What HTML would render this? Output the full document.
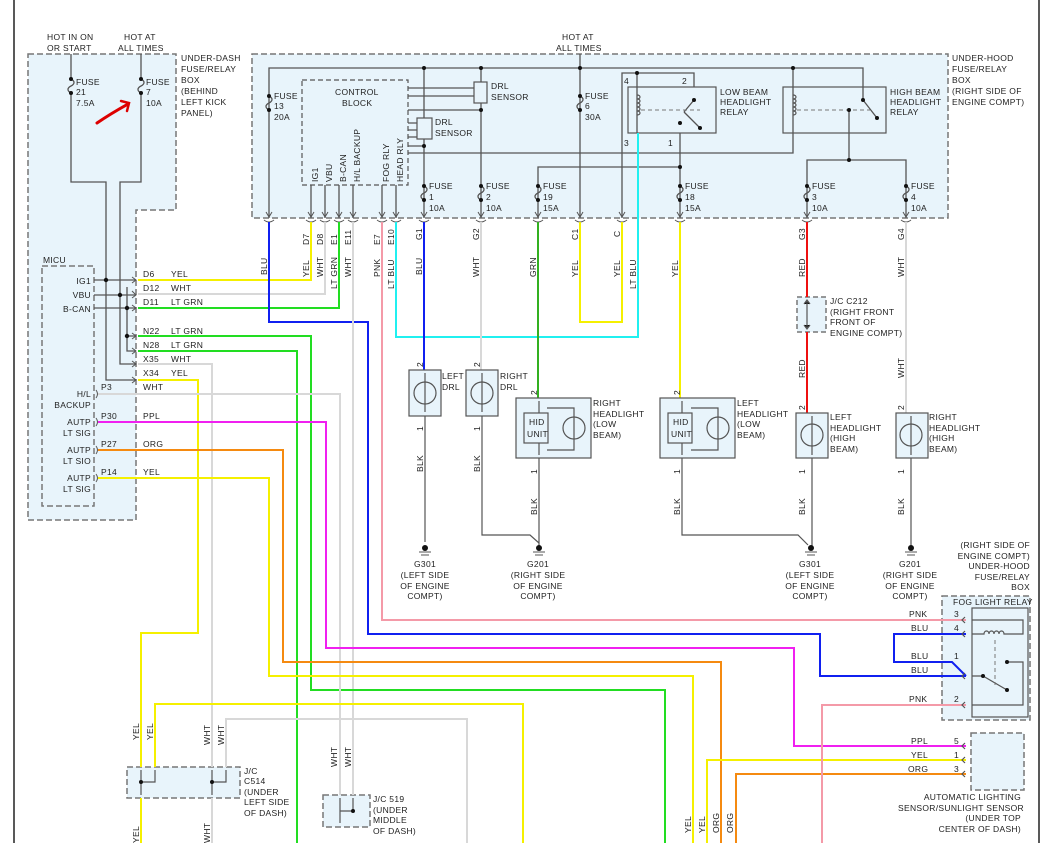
<!DOCTYPE html>
<html><head><meta charset="utf-8"><style>
html,body{margin:0;padding:0;background:#fff;}
svg{display:block;font-family:"Liberation Sans",sans-serif;}
text{font-size:8.5px;fill:#222;letter-spacing:0.3px;}
</style></head><body>
<svg width="1053" height="843" viewBox="0 0 1053 843" xmlns="http://www.w3.org/2000/svg">
<line x1="14" y1="0" x2="14" y2="843" stroke="#222" stroke-width="1.5"/>
<line x1="1039" y1="0" x2="1039" y2="843" stroke="#222" stroke-width="1.5"/>

<path d="M28 54 H176 V210 H136 V520 H28 Z" fill="#e8f4fb" stroke="#777" stroke-width="1.5" stroke-dasharray="6,3"/>
<rect x="42" y="266" width="52" height="240" fill="#e8f4fb" stroke="#777" stroke-width="1.5" stroke-dasharray="6,3"/>
<rect x="252" y="54" width="696" height="164" fill="#e8f4fb" stroke="#777" stroke-width="1.5" stroke-dasharray="6,3"/>
<rect x="302" y="80" width="106" height="105" fill="#e8f4fb" stroke="#555" stroke-width="1.2" stroke-dasharray="5,3"/>
<rect x="942" y="596" width="88" height="124" fill="#e8f4fb" stroke="#777" stroke-width="1.5" stroke-dasharray="6,3"/>
<rect x="971" y="733" width="53" height="57" fill="#e8f4fb" stroke="#777" stroke-width="1.5" stroke-dasharray="6,3"/>
<rect x="127" y="767" width="113" height="31" fill="#e8f4fb" stroke="#777" stroke-width="1.5" stroke-dasharray="6,3"/>
<rect x="323" y="795" width="47" height="32" fill="#e8f4fb" stroke="#777" stroke-width="1.5" stroke-dasharray="6,3"/>
<rect x="797" y="297" width="29" height="35" fill="#e8f4fb" stroke="#777" stroke-width="1.5" stroke-dasharray="5,3"/>

<text x="47" y="40">HOT IN ON</text><text x="47" y="51">OR START</text>
<text x="124" y="40">HOT AT</text><text x="118" y="51">ALL TIMES</text>
<text x="181" y="61">UNDER-DASH</text><text x="181" y="72">FUSE/RELAY</text><text x="181" y="83">BOX</text>
<text x="181" y="94">(BEHIND</text><text x="181" y="105">LEFT KICK</text><text x="181" y="116">PANEL)</text>
<text x="76" y="85">FUSE</text><text x="76" y="95">21</text><text x="76" y="106">7.5A</text>
<text x="146" y="85">FUSE</text><text x="146" y="95">7</text><text x="146" y="106">10A</text>
<path d="M97 123 Q110 114 128 104" stroke="#d00" stroke-width="3" fill="none" stroke-linecap="round"/>
<path d="M121 101 L129 103 L127 111" stroke="#d00" stroke-width="2.5" fill="none" stroke-linecap="round"/>

<g stroke="#555" stroke-width="1.3" fill="none">
<path d="M71 54 V182 H106 V380 H136"/>
<path d="M141 54 V182 H120 V364 H136"/>
<path d="M106 280 H136 M120 295 H136 M127 308 H136 M127 287 V351 H136 M127 336 H136"/>
<path d="M94 280 H106 M94 295 H120 M94 308 H127"/>
</g>
<g fill="#111">
<circle cx="106" cy="280" r="2.2"/><circle cx="120" cy="295" r="2.2"/><circle cx="127" cy="308" r="2.2"/><circle cx="127" cy="336" r="2.2"/>
</g>
<g fill="#e8f4fb">
<rect x="66" y="78" width="10" height="16"/><rect x="136" y="78" width="10" height="16"/>
</g>
<g stroke="#555" stroke-width="1.3" fill="none">
<path d="M71 79 c4 2 4 5 0 7 c-4 2 -4 5 0 7"/><path d="M141 79 c4 2 4 5 0 7 c-4 2 -4 5 0 7"/>
</g>
<g fill="#111"><circle cx="71" cy="79" r="2"/><circle cx="71" cy="93" r="2"/><circle cx="141" cy="79" r="2"/><circle cx="141" cy="93" r="2"/></g>

<text x="43" y="263">MICU</text>
<g text-anchor="end">
<text x="91" y="284">IG1</text><text x="91" y="298">VBU</text><text x="91" y="312">B-CAN</text>
<text x="91" y="397">H/L</text><text x="91" y="408">BACKUP</text>
<text x="91" y="425">AUTP</text><text x="91" y="436">LT SIG</text>
<text x="91" y="453">AUTP</text><text x="91" y="464">LT SIO</text>
<text x="91" y="481">AUTP</text><text x="91" y="492">LT SIG</text>
</g>
<text x="143" y="277">D6</text><text x="171" y="277">YEL</text>
<text x="143" y="291">D12</text><text x="171" y="291">WHT</text>
<text x="143" y="305">D11</text><text x="171" y="305">LT GRN</text>
<text x="143" y="334">N22</text><text x="171" y="334">LT GRN</text>
<text x="143" y="348">N28</text><text x="171" y="348">LT GRN</text>
<text x="143" y="362">X35</text><text x="171" y="362">WHT</text>
<text x="143" y="376">X34</text><text x="171" y="376">YEL</text>
<text x="143" y="390">WHT</text>
<text x="101" y="390">P3</text>
<text x="101" y="419">P30</text><text x="143" y="419">PPL</text>
<text x="101" y="447">P27</text><text x="143" y="447">ORG</text>
<text x="101" y="475">P14</text><text x="143" y="475">YEL</text>
<g stroke="#555" stroke-width="1" fill="none">
<path d="M132 277 L136 280 L132 283 M132 291 L136 295 L132 298 M132 305 L136 308 L132 311 M132 333 L136 336 L132 339 M132 348 L136 351 L132 354 M132 361 L136 364 L132 367 M132 377 L136 380 L132 383"/>
<path d="M96 390 q3 4 0 8 M96 418 q3 4 0 8 M96 446 q3 4 0 8 M96 474 q3 4 0 8"/>
</g>

<text x="562" y="40">HOT AT</text><text x="556" y="51">ALL TIMES</text>
<text x="952" y="61">UNDER-HOOD</text><text x="952" y="72">FUSE/RELAY</text><text x="952" y="83">BOX</text>
<text x="952" y="94">(RIGHT SIDE OF</text><text x="952" y="105">ENGINE COMPT)</text>
<text x="335" y="95">CONTROL</text><text x="342" y="106">BLOCK</text>

<g stroke="#555" stroke-width="1.3" fill="none">
<path d="M269 218 V68 H863 V100"/>
<path d="M424 68 V218 M481 68 V218 M580 54 V218"/>
<path d="M408 88 H474 M408 96 H474 M408 110 H481"/>
<path d="M408 123 H417 M408 130 H417 M408 137 H417 M408 146 H424"/>
<path d="M408 153 H793 V68"/>
<path d="M538 218 V167 H680 M680 218 V143 V133"/>
<path d="M622 218 V73 H694 V87 M637 73 V133"/>
<path d="M849 110 V160 M807 218 V160 H906 V218"/>
<path d="M863 100 L877 118"/>
<path d="M684 112 L700 128"/>
<path d="M694 100 L684 112"/>
</g>
<rect x="474" y="82" width="13" height="21" fill="#e8f4fb" stroke="#555" stroke-width="1.2"/>
<rect x="417" y="118" width="15" height="21" fill="#e8f4fb" stroke="#555" stroke-width="1.2"/>
<rect x="628" y="87" width="88" height="46" fill="none" stroke="#555" stroke-width="1.2"/>
<rect x="783" y="87" width="103" height="46" fill="none" stroke="#555" stroke-width="1.2"/>
<g stroke="#777" stroke-width="1" stroke-dasharray="4,3"><line x1="641" y1="110" x2="700" y2="110"/><line x1="797" y1="110" x2="870" y2="110"/></g>
<g stroke="#555" stroke-width="1.2" fill="none">
<path d="M637 95 c4 0 4 4 0 4 c4 0 4 4 0 4 c4 0 4 4 0 4 c4 0 4 4 0 4 c4 0 4 4 0 4"/>
<path d="M793 95 c4 0 4 4 0 4 c4 0 4 4 0 4 c4 0 4 4 0 4 c4 0 4 4 0 4 c4 0 4 4 0 4"/>
</g>
<g stroke="#555" stroke-width="1.3" fill="none">
<path d="M269 96 c4 2 4 5 0 7 c-4 2 -4 5 0 7"/>
<path d="M580 96 c4 2 4 5 0 7 c-4 2 -4 5 0 7"/>
<path d="M424 186 c4 2 4 5 0 7 c-4 2 -4 5 0 7"/>
<path d="M481 186 c4 2 4 5 0 7 c-4 2 -4 5 0 7"/>
<path d="M538 186 c4 2 4 5 0 7 c-4 2 -4 5 0 7"/>
<path d="M680 186 c4 2 4 5 0 7 c-4 2 -4 5 0 7"/>
<path d="M807 186 c4 2 4 5 0 7 c-4 2 -4 5 0 7"/>
<path d="M906 186 c4 2 4 5 0 7 c-4 2 -4 5 0 7"/>
</g>
<g fill="#111">
<circle cx="269" cy="96" r="2"/><circle cx="269" cy="110" r="2"/><circle cx="580" cy="96" r="2"/><circle cx="580" cy="110" r="2"/>
<circle cx="424" cy="186" r="2"/><circle cx="424" cy="200" r="2"/><circle cx="481" cy="186" r="2"/><circle cx="481" cy="200" r="2"/>
<circle cx="538" cy="186" r="2"/><circle cx="538" cy="200" r="2"/><circle cx="680" cy="186" r="2"/><circle cx="680" cy="200" r="2"/>
<circle cx="807" cy="186" r="2"/><circle cx="807" cy="200" r="2"/><circle cx="906" cy="186" r="2"/><circle cx="906" cy="200" r="2"/>
<circle cx="424" cy="68" r="2"/><circle cx="481" cy="68" r="2"/><circle cx="580" cy="68" r="2"/><circle cx="793" cy="68" r="2"/>
<circle cx="481" cy="110" r="2"/><circle cx="424" cy="146" r="2"/><circle cx="680" cy="167" r="2"/><circle cx="637" cy="73" r="2"/>
<circle cx="849" cy="160" r="2"/><circle cx="849" cy="110" r="2"/><circle cx="863" cy="100" r="2"/><circle cx="877" cy="118" r="2"/>
<circle cx="694" cy="100" r="2"/><circle cx="700" cy="128" r="2"/><circle cx="680" cy="123" r="2"/>
</g>
<text x="274" y="99">FUSE</text><text x="274" y="109">13</text><text x="274" y="120">20A</text>
<text x="585" y="99">FUSE</text><text x="585" y="109">6</text><text x="585" y="120">30A</text>
<text x="491" y="89">DRL</text><text x="491" y="100">SENSOR</text>
<text x="435" y="125">DRL</text><text x="435" y="136">SENSOR</text>
<text x="720" y="95">LOW BEAM</text><text x="720" y="105">HEADLIGHT</text><text x="720" y="115">RELAY</text>
<text x="890" y="95">HIGH BEAM</text><text x="890" y="105">HEADLIGHT</text><text x="890" y="115">RELAY</text>
<text x="624" y="84">4</text><text x="682" y="84">2</text><text x="624" y="146">3</text><text x="668" y="146">1</text>
<g>
<text x="429" y="189">FUSE</text><text x="429" y="200">1</text><text x="429" y="211">10A</text>
<text x="486" y="189">FUSE</text><text x="486" y="200">2</text><text x="486" y="211">10A</text>
<text x="543" y="189">FUSE</text><text x="543" y="200">19</text><text x="543" y="211">15A</text>
<text x="685" y="189">FUSE</text><text x="685" y="200">18</text><text x="685" y="211">15A</text>
<text x="812" y="189">FUSE</text><text x="812" y="200">3</text><text x="812" y="211">10A</text>
<text x="911" y="189">FUSE</text><text x="911" y="200">4</text><text x="911" y="211">10A</text>
</g>
<g>
<text transform="translate(318,182) rotate(-90)">IG1</text>
<text transform="translate(332,182) rotate(-90)">VBU</text>
<text transform="translate(346,182) rotate(-90)">B-CAN</text>
<text transform="translate(360,182) rotate(-90)">H/L BACKUP</text>
<text transform="translate(389,182) rotate(-90)">FOG RLY</text>
<text transform="translate(403,182) rotate(-90)">HEAD RLY</text>
</g>
<g stroke="#555" stroke-width="1.3">
<path d="M311 185 V218 M325 185 V218 M339 185 V218 M353 185 V218 M382 185 V218 M396 185 V218"/>
</g>
<g stroke="#555" stroke-width="1" fill="none">
<path d="M266 212 l3 5 l3 -5 M308 212 l3 5 l3 -5 M322 212 l3 5 l3 -5 M336 212 l3 5 l3 -5 M350 212 l3 5 l3 -5 M379 212 l3 5 l3 -5 M393 212 l3 5 l3 -5 M421 212 l3 5 l3 -5 M478 212 l3 5 l3 -5 M535 212 l3 5 l3 -5 M577 212 l3 5 l3 -5 M619 212 l3 5 l3 -5 M677 212 l3 5 l3 -5 M804 212 l3 5 l3 -5 M903 212 l3 5 l3 -5"/>
<path d="M264 220 q5 4 10 0 M306 220 q5 4 10 0 M320 220 q5 4 10 0 M334 220 q5 4 10 0 M348 220 q5 4 10 0 M377 220 q5 4 10 0 M391 220 q5 4 10 0 M419 220 q5 4 10 0 M476 220 q5 4 10 0 M533 220 q5 4 10 0 M575 220 q5 4 10 0 M617 220 q5 4 10 0 M675 220 q5 4 10 0 M802 220 q5 4 10 0 M901 220 q5 4 10 0"/>
</g>

<g fill="none" stroke-width="2">
<path d="M138 280 H311 V222" stroke="#f5f000"/>
<path d="M138 294 H325 V222" stroke="#d8d8d8"/>
<path d="M138 308 H339 V222" stroke="#22dd22"/>
<path d="M269 222 V322 H368 V634 H820 V676 H966" stroke="#1020f0"/>
<path d="M353 222 V795" stroke="#d8d8d8"/>
<path d="M382 222 V620 H966" stroke="#f49aa8"/>
<path d="M396 222 V337 H638 V133" stroke="#20f0f0"/>
<path d="M580 222 V322 H622 V222" stroke="#f5f000"/>
<path d="M424 222 V370" stroke="#1020f0"/>
<path d="M481 222 V370" stroke="#d8d8d8"/>
<path d="M538 222 V398" stroke="#33b020"/>
<path d="M680 222 V398" stroke="#f5f000"/>
<path d="M807 222 V297 M807 332 V413" stroke="#ee1010"/>
<path d="M906 222 V413" stroke="#d8d8d8"/>
<path d="M138 336 H311 V690 H665 V843" stroke="#22dd22"/>
<path d="M138 351 H297 V843" stroke="#22dd22"/>
<path d="M138 364 H212 V767 M212 798 V843" stroke="#d8d8d8"/>
<path d="M138 380 H198 V633 H141 V767 M141 798 V843" stroke="#f5f000"/>
<path d="M98 394 H340 V795" stroke="#d8d8d8"/>
<path d="M98 422 H326 V648 H794 V746 H966" stroke="#f020f0"/>
<path d="M98 450 H283 V662 H721 V843" stroke="#f58a10"/>
<path d="M98 478 H269 V676 H693 V843" stroke="#f5f000"/>
<path d="M155 767 V704 H523 V843" stroke="#f5f000"/>
<path d="M226 767 V719 H467 V843" stroke="#d8d8d8"/>
<path d="M707 843 V760 H966" stroke="#f5f000"/>
<path d="M736 843 V774 H966" stroke="#f58a10"/>
<path d="M822 843 V705 H966" stroke="#f49aa8"/>
<path d="M966 634 H894 V662 H952 L966 676" stroke="#1020f0"/>
</g>
<g>
<text transform="translate(267,275) rotate(-90)">BLU</text>
<text transform="translate(309,245) rotate(-90)">D7</text><text transform="translate(309,277) rotate(-90)">YEL</text>
<text transform="translate(323,245) rotate(-90)">D8</text><text transform="translate(323,277) rotate(-90)">WHT</text>
<text transform="translate(337,245) rotate(-90)">E1</text><text transform="translate(337,289) rotate(-90)">LT GRN</text>
<text transform="translate(351,245) rotate(-90)">E11</text><text transform="translate(351,277) rotate(-90)">WHT</text>
<text transform="translate(380,245) rotate(-90)">E7</text><text transform="translate(380,277) rotate(-90)">PNK</text>
<text transform="translate(394,245) rotate(-90)">E10</text><text transform="translate(394,289) rotate(-90)">LT BLU</text>
<text transform="translate(422,240) rotate(-90)">G1</text><text transform="translate(422,275) rotate(-90)">BLU</text>
<text transform="translate(479,240) rotate(-90)">G2</text><text transform="translate(479,277) rotate(-90)">WHT</text>
<text transform="translate(536,277) rotate(-90)">GRN</text>
<text transform="translate(578,240) rotate(-90)">C1</text><text transform="translate(578,277) rotate(-90)">YEL</text>
<text transform="translate(620,237) rotate(-90)">C</text><text transform="translate(620,277) rotate(-90)">YEL</text>
<text transform="translate(636,289) rotate(-90)">LT BLU</text>
<text transform="translate(678,277) rotate(-90)">YEL</text>
<text transform="translate(805,240) rotate(-90)">G3</text><text transform="translate(805,277) rotate(-90)">RED</text>
<text transform="translate(904,240) rotate(-90)">G4</text><text transform="translate(904,277) rotate(-90)">WHT</text>
<text transform="translate(805,378) rotate(-90)">RED</text>
<text transform="translate(904,378) rotate(-90)">WHT</text>
</g>
<text x="830" y="304">J/C C212</text><text x="830" y="315">(RIGHT FRONT</text><text x="830" y="325">FRONT OF</text><text x="830" y="336">ENGINE COMPT)</text>
<g stroke="#555" stroke-width="1.2"><path d="M807 300 V329 M804 304 l3 -4 l3 4 M804 325 l3 4 l3 -4"/></g>

<g fill="#e8f4fb" stroke="#555" stroke-width="1.2">
<rect x="409" y="370" width="32" height="46"/><rect x="466" y="370" width="32" height="46"/>
<rect x="516" y="398" width="75" height="60"/><rect x="660" y="398" width="75" height="60"/>
<rect x="796" y="413" width="32" height="45"/><rect x="896" y="413" width="32" height="45"/>
</g>
<g fill="none" stroke="#555" stroke-width="1.2">
<circle cx="425" cy="393" r="11"/><circle cx="482" cy="393" r="11"/><circle cx="812" cy="435" r="11"/><circle cx="911" cy="435" r="11"/>
<circle cx="574" cy="428" r="11"/><circle cx="718" cy="428" r="11"/>
<path d="M425 373 V412 M482 373 V412 M812 416 V455 M911 416 V455"/>
<path d="M539 401 V455 M682 401 V455"/>
<path d="M547 408 H574 V450 H547 M691 408 H718 V450 H691"/>
<path d="M425 416 V542 M482 416 V535 H530 L539 543 V548 M539 458 V548 M682 458 V535 H798 L808 545 M812 458 V548 M911 458 V548"/>
</g>
<g fill="#e8f4fb" stroke="#555" stroke-width="1.2"><rect x="524" y="413" width="24" height="30"/><rect x="668" y="413" width="24" height="30"/></g>
<text x="529" y="425">HID</text><text x="527" y="437">UNIT</text>
<text x="673" y="425">HID</text><text x="671" y="437">UNIT</text>
<text x="442" y="379">LEFT</text><text x="442" y="390">DRL</text>
<text x="500" y="379">RIGHT</text><text x="500" y="390">DRL</text>
<text x="593" y="406">RIGHT</text><text x="593" y="417">HEADLIGHT</text><text x="593" y="427">(LOW</text><text x="593" y="438">BEAM)</text>
<text x="737" y="406">LEFT</text><text x="737" y="417">HEADLIGHT</text><text x="737" y="427">(LOW</text><text x="737" y="438">BEAM)</text>
<text x="830" y="420">LEFT</text><text x="830" y="431">HEADLIGHT</text><text x="830" y="441">(HIGH</text><text x="830" y="452">BEAM)</text>
<text x="929" y="420">RIGHT</text><text x="929" y="431">HEADLIGHT</text><text x="929" y="441">(HIGH</text><text x="929" y="452">BEAM)</text>
<g>
<text transform="translate(423,367) rotate(-90)">2</text><text transform="translate(480,367) rotate(-90)">2</text>
<text transform="translate(537,395) rotate(-90)">2</text><text transform="translate(680,395) rotate(-90)">2</text>
<text transform="translate(805,410) rotate(-90)">2</text><text transform="translate(904,410) rotate(-90)">2</text>
<text transform="translate(423,431) rotate(-90)">1</text><text transform="translate(480,431) rotate(-90)">1</text>
<text transform="translate(537,474) rotate(-90)">1</text><text transform="translate(680,474) rotate(-90)">1</text>
<text transform="translate(805,474) rotate(-90)">1</text><text transform="translate(904,474) rotate(-90)">1</text>
<text transform="translate(423,472) rotate(-90)">BLK</text><text transform="translate(480,472) rotate(-90)">BLK</text>
<text transform="translate(537,515) rotate(-90)">BLK</text><text transform="translate(680,515) rotate(-90)">BLK</text>
<text transform="translate(805,515) rotate(-90)">BLK</text><text transform="translate(904,515) rotate(-90)">BLK</text>
</g>
<g fill="#111"><circle cx="425" cy="548" r="3"/><circle cx="539" cy="548" r="3"/><circle cx="811" cy="548" r="3"/><circle cx="911" cy="548" r="3"/></g>
<g stroke="#555" stroke-width="1"><path d="M419 552 h12 M421 555 h8 M533 552 h12 M535 555 h8 M805 552 h12 M807 555 h8 M905 552 h12 M907 555 h8"/></g>
<g text-anchor="middle">
<text x="425" y="567">G301</text><text x="425" y="578">(LEFT SIDE</text><text x="425" y="589">OF ENGINE</text><text x="425" y="599">COMPT)</text>
<text x="538" y="567">G201</text><text x="538" y="578">(RIGHT SIDE</text><text x="538" y="589">OF ENGINE</text><text x="538" y="599">COMPT)</text>
<text x="810" y="567">G301</text><text x="810" y="578">(LEFT SIDE</text><text x="810" y="589">OF ENGINE</text><text x="810" y="599">COMPT)</text>
<text x="910" y="567">G201</text><text x="910" y="578">(RIGHT SIDE</text><text x="910" y="589">OF ENGINE</text><text x="910" y="599">COMPT)</text>
</g>
<g text-anchor="end">
<text x="1030" y="548">(RIGHT SIDE OF</text><text x="1030" y="559">ENGINE COMPT)</text><text x="1030" y="569">UNDER-HOOD</text><text x="1030" y="580">FUSE/RELAY</text><text x="1030" y="590">BOX</text>
</g>
<text x="953" y="605">FOG LIGHT RELAY</text>

<rect x="972" y="608" width="56" height="109" fill="none" stroke="#555" stroke-width="1.2"/>
<g fill="none" stroke="#555" stroke-width="1.2">
<path d="M972 620 H1023 V634 H1007 M972 634 H984 c0 -4 5 -4 5 0 c0 -4 5 -4 5 0 c0 -4 5 -4 5 0 c0 -4 5 -4 5 0 h3"/>
<path d="M972 676 H983 L1007 690 M1007 662 H1023 V705 H972"/>
<path d="M965 617 l-3 3 l3 3 M965 631 l-3 3 l3 3 M965 673 l-3 3 l3 3 M965 702 l-3 3 l3 3 M965 743 l-3 3 l3 3 M965 757 l-3 3 l3 3 M965 771 l-3 3 l3 3"/>
</g>
<line x1="995" y1="640" x2="995" y2="685" stroke="#777" stroke-dasharray="4,3"/>
<g fill="#111"><circle cx="983" cy="676" r="2"/><circle cx="1007" cy="690" r="2"/><circle cx="1007" cy="662" r="2"/></g>
<text x="909" y="617">PNK</text><text x="954" y="617">3</text>
<text x="911" y="631">BLU</text><text x="954" y="631">4</text>
<text x="911" y="659">BLU</text><text x="954" y="659">1</text>
<text x="911" y="673">BLU</text>
<text x="909" y="702">PNK</text><text x="954" y="702">2</text>
<text x="911" y="744">PPL</text><text x="954" y="744">5</text>
<text x="911" y="758">YEL</text><text x="954" y="758">1</text>
<text x="908" y="772">ORG</text><text x="954" y="772">3</text>
<g text-anchor="end">
<text x="1021" y="800">AUTOMATIC LIGHTING</text><text x="1024" y="811">SENSOR/SUNLIGHT SENSOR</text>
<text x="1021" y="821">(UNDER TOP</text><text x="1021" y="832">CENTER OF DASH)</text>
</g>
<g>
<text transform="translate(139,740) rotate(-90)">YEL</text><text transform="translate(153,740) rotate(-90)">YEL</text>
<text transform="translate(210,745) rotate(-90)">WHT</text><text transform="translate(224,745) rotate(-90)">WHT</text>
<text transform="translate(139,843) rotate(-90)">YEL</text><text transform="translate(210,843) rotate(-90)">WHT</text>
<text transform="translate(337,767) rotate(-90)">WHT</text><text transform="translate(351,767) rotate(-90)">WHT</text>
<text transform="translate(691,833) rotate(-90)">YEL</text><text transform="translate(705,833) rotate(-90)">YEL</text>
<text transform="translate(719,833) rotate(-90)">ORG</text><text transform="translate(733,833) rotate(-90)">ORG</text>
</g>
<g fill="none" stroke="#555" stroke-width="1.2">
<path d="M141 770 V795 M141 782 H155 V770 M212 770 V795 M212 782 H226 V770 M340 798 V823 M340 811 H353 V798"/>
</g>
<g fill="#111"><circle cx="141" cy="782" r="2"/><circle cx="212" cy="782" r="2"/><circle cx="353" cy="811" r="2"/></g>
<text x="244" y="774">J/C</text><text x="244" y="784">C514</text><text x="244" y="795">(UNDER</text><text x="244" y="805">LEFT SIDE</text><text x="244" y="816">OF DASH)</text>
<text x="373" y="802">J/C 519</text><text x="373" y="813">(UNDER</text><text x="373" y="823">MIDDLE</text><text x="373" y="834">OF DASH)</text>
</svg>
</body></html>
